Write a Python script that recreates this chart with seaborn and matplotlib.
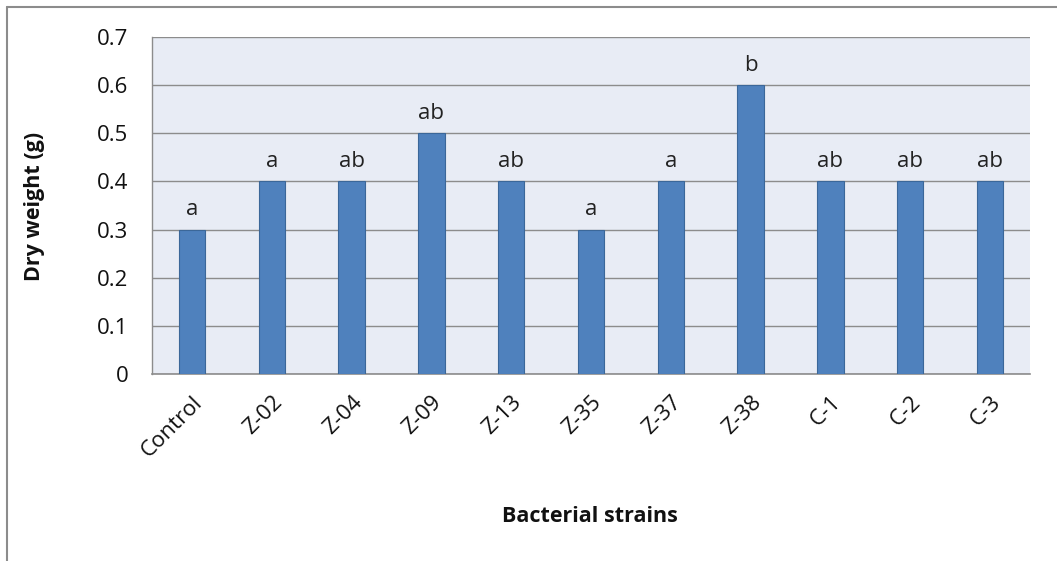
import matplotlib
matplotlib.use("Agg")
import matplotlib.pyplot as plt
import seaborn as sns
import pandas as pd
from matplotlib.lines import Line2D

strains = ["Control", "Z-02", "Z-04", "Z-09", "Z-13", "Z-35", "Z-37", "Z-38", "C-1", "C-2", "C-3"]
dry_weight = [0.3, 0.4, 0.4, 0.5, 0.4, 0.3, 0.4, 0.6, 0.4, 0.4, 0.4]
letters = ["a", "a", "ab", "ab", "ab", "a", "a", "b", "ab", "ab", "ab"]
yticks = [0, 0.1, 0.2, 0.3, 0.4, 0.5, 0.6, 0.7]

df = pd.DataFrame({"strain": strains, "weight": dry_weight})

sns.set_style("white")
plt.rcParams["font.family"] = ["Open Sans", "DejaVu Sans"]

fig = plt.figure(figsize=(10.57, 5.61), dpi=100)
ax = fig.add_axes([152/1057, 1 - 374/561, (1030-152)/1057, (374-37)/561])
ax.set_facecolor("#E8ECF5")

sns.barplot(data=df, x="strain", y="weight", ax=ax, color="#4F81BD",
            width=0.33, saturation=1, edgecolor="#3B6799", linewidth=0.8, zorder=3)

ax.set_ylim(0, 0.7)
ax.set_xlim(-0.5, len(strains) - 0.5)
ax.set_yticks(yticks)
ax.set_yticklabels(["0" if v == 0 else f"{v:.1f}" for v in yticks], fontsize=16, color="#111111")
ax.yaxis.grid(True, color="#8C8C8C", linewidth=1, zorder=0)
ax.set_axisbelow(True)
ax.tick_params(axis="both", length=0)
ax.tick_params(axis="y", pad=17)
ax.set_xticks(range(len(strains)))
ax.set_xticklabels(strains, rotation=45, ha="right", rotation_mode="anchor",
                   fontsize=16, color="#111111")
ax.tick_params(axis="x", pad=13)

for s in ["top", "right"]:
    ax.spines[s].set_visible(False)
ax.spines["left"].set_color("#8C8C8C")
ax.spines["bottom"].set_color("#8C8C8C")
ax.spines["left"].set_linewidth(1)
ax.spines["bottom"].set_linewidth(1.2)

for i, (v, l) in enumerate(zip(dry_weight, letters)):
    ax.text(i, v + 0.02, l, ha="center", va="bottom", fontsize=16, color="#222222")

ax.set_xlabel("")
ax.set_ylabel("")
fig.text(590/1057, 1 - 517/561, "Bacterial strains", ha="center", va="center",
         fontsize=15.5, fontweight="bold", color="#111111")
fig.text(35/1057, 1 - 206/561, "Dry weight (g)", ha="center", va="center",
         rotation=90, fontsize=15.5, fontweight="bold", color="#111111")

# outer chart frame (top and left edges)
fig.add_artist(Line2D([7/1057, 1.0], [1 - 7/561, 1 - 7/561], transform=fig.transFigure,
                      color="#8C8C8C", linewidth=1.5))
fig.add_artist(Line2D([7/1057, 7/1057], [0, 1 - 7/561], transform=fig.transFigure,
                      color="#8C8C8C", linewidth=1.5))

fig.savefig("out.png", dpi=100, facecolor="white")
